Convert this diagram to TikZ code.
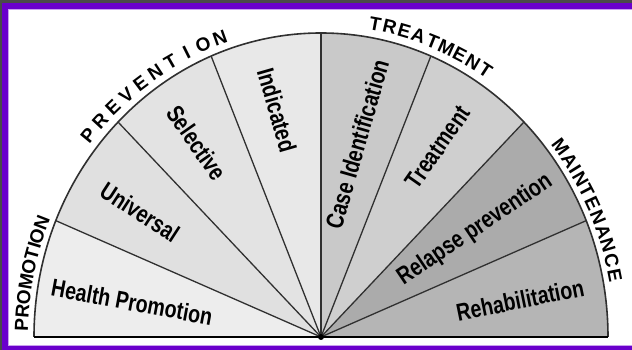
\documentclass[tikz,border=0pt]{standalone}
\usepackage{fontspec}
\setmainfont{Liberation Sans}[FakeStretch=0.8]
\newfontfamily\rimfamily{Liberation Sans}

\definecolor{framepurple}{HTML}{6A00CC}
\definecolor{framelight}{HTML}{C9A0F0}
\definecolor{framegray}{HTML}{4A4A4A}
\definecolor{linegray}{HTML}{303030}

\begin{document}
\begin{tikzpicture}[x=1pt,y=1pt,
  seg/.style={font=\fontsize{24.5}{26}\selectfont\bfseries,inner sep=0pt},
  rim/.style={font=\rimfamily\fontsize{19}{21}\selectfont\bfseries,inner sep=0pt,anchor=base}]
% frame
\fill[framegray] (-321,-13) rectangle (311,337);
\fill[framepurple] (-319,-13) rectangle (311,334);
\fill[framelight] (-313,-9) rectangle (311,328);
\fill[white] (-312,-8) rectangle (311,327);
\useasboundingbox (-321,-13) rectangle (311,337);
\coordinate (c) at (0,0);
\foreach \i in {0,...,8}
  \coordinate (p\i) at (\i*22.5:287 and 304);
% sectors
\foreach \i/\g in {0/29,1/33,2/19,3/21,4/9,5/11,6/12,7/7}
  \fill[black!\g] (c) -- (p\i) arc[start angle=\i*22.5,end angle=\i*22.5+22.5,x radius=287,y radius=304] -- cycle;
\foreach \i in {1,...,7}
  \draw[linegray,line width=1.3] (c) -- (p\i);
\draw[linegray,line width=1.6] (p0) arc[start angle=0,end angle=180,x radius=287,y radius=304];
\draw[black,line width=2.6] (p8) -- (p0);
\fill[black] (c) circle (3);
% labels
\node[seg,rotate=-10.5] (health) at (-189,35) {Health Promotion};
\node[seg,rotate=-33] (universal) at (-181,125) {Universal};
\node[seg,rotate=-55] (selective) at (-124,194) {Selective};
\node[seg,rotate=-74] (indicated) at (-44,227) {Indicated};
\node[seg,rotate=74] (caseid) at (36,193) {Case Identification};
\node[seg,rotate=55] (treatment) at (117,190) {Treatment};
\node[seg,rotate=34] (relapse) at (154,107) {Relapse prevention};
\node[seg,rotate=11.5] (rehab) at (199,37) {Rehabilitation};
% rim titles, one letter at a time
\foreach \l/\a [count=\k] in {P/177.8,R/175.4,O/172.8,M/170.0,O/167.2,T/164.8,I/163.2,O/161.4,N/158.8}
  \node[rim,rotate=\a-90] (promo\k) at (\a:293 and 310) {\l};
\foreach \l [count=\k,evaluate=\k as \a using 140.7-(\k-1)*3.45] in {P,R,E,V,E,N,T,I,O,N}
  \node[rim,rotate=\a-90] (prev\k) at (\a:294 and 311) {\l};
\foreach \l [count=\k,evaluate=\k as \a using 79.6-(\k-1)*2.85] in {T,R,E,A,T,M,E,N,T}
  \node[rim,rotate=\a-90] (treat\k) at (\a:294 and 312) {\l};
\foreach \l/\a [count=\k] in {M/36.9,A/33.9,I/32.0,N/30.0,T/27.5,E/25.0,N/22.3,A/19.5,N/16.8,C/14.0,E/11.3}
  \node[rim,rotate=\a-90] (maint\k) at (\a:293 and 310) {\l};
\end{tikzpicture}
\end{document}
